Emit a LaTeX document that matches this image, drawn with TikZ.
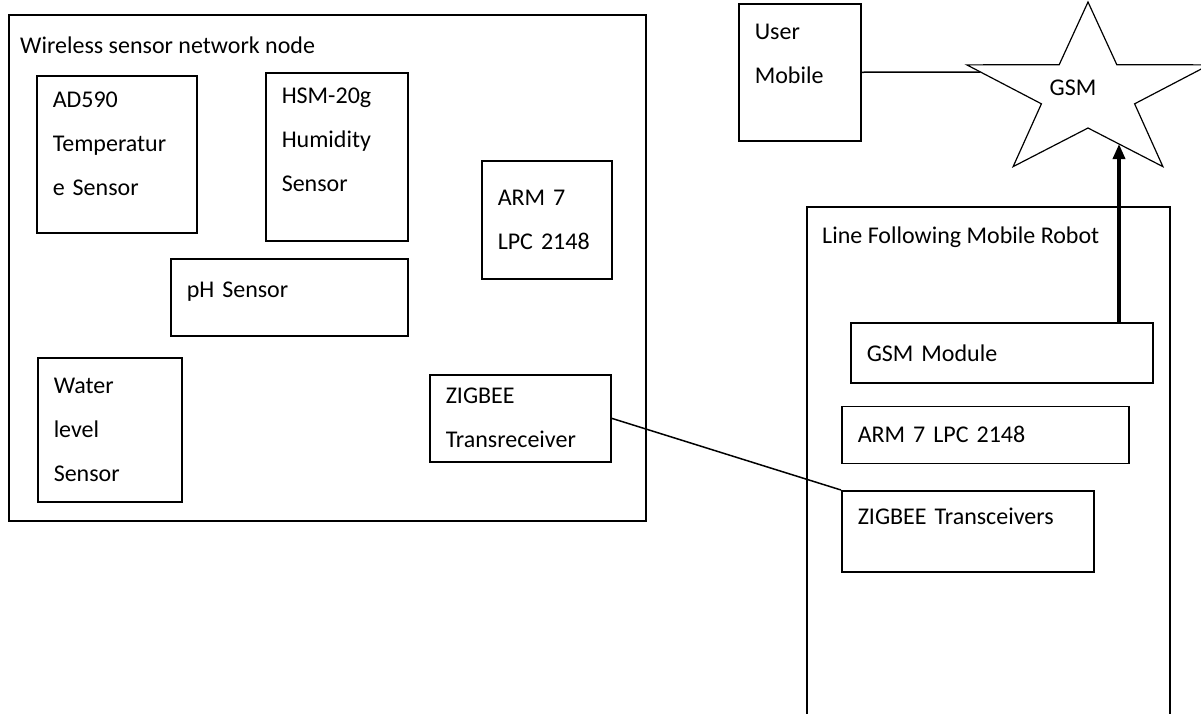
\documentclass[tikz,border=0pt]{standalone}
\usepackage{fontspec}
\setmainfont{Carlito}
\usetikzlibrary{positioning}
\usetikzlibrary{arrows.meta}
\tikzset{
	>={Triangle[length=15pt,width=12pt]},
	kasten/.style={
		rectangle,
		draw=black, line width=1.5pt,
		anchor=north west,
		inner xsep=16pt,
		align=left},
	hoch/.style={text depth=#1},
	rahmen/.style={
		rectangle,
		draw=black, line width=1.5pt,
		anchor=north west},
	titel/.style={anchor=west, inner sep=0pt},
	line/.style={draw, line width=1.5pt},
	pfeil/.style={draw, line width=3.5pt, ->},
}
\begin{document}
\begin{tikzpicture}
	[x=1pt, y=-1pt,
	font=\fontsize{24}{44}\selectfont]
	\useasboundingbox (0,0) rectangle (1201,713);
	\clip (0,0) rectangle (1201,713);
	% sensor node
	\node[rahmen, minimum width=637, minimum height=506] (wsn) at (8,14) {};
	\node[titel] (wsntitel) at (20,45) {Wireless sensor network node};
	\node[kasten, hoch=110pt, text width=128pt, minimum height=157] (ad590) at (36,75) {AD590\\Temperatur\\e Sensor};
	\node[kasten, hoch=122pt, text width=110pt, minimum height=168] (hsm) at (265,72) {HSM-20g\\Humidity\\Sensor};
	\node[kasten, text width=98pt, minimum height=118] (arm) at (481,160) {ARM 7\\LPC 2148};
	\node[kasten, hoch=16pt, text width=205pt, minimum height=77] (ph) at (170,258) {pH Sensor};
	\node[kasten, text width=112pt, minimum height=144] (water) at (37,357) {Water\\level\\Sensor};
	\node[kasten, text width=149pt, minimum height=87] (ztx) at (429,374) {ZIGBEE\\Transreceiver};
	% user and gsm
	\node[kasten, hoch=80pt, text width=90pt, minimum height=137] (user) at (738,3) {User\\Mobile};
	\foreach \i in {0,...,9} {
		\pgfmathsetmacro{\rr}{mod(\i,2)==0 ? 91 : 35}
		\coordinate (s\i) at ({1088+1.4*\rr*cos(90+36*\i)}, {93-\rr*sin(90+36*\i)});
	}
	\draw[line width=1.2pt] (s0) \foreach \i in {1,...,9} {-- (s\i)} -- cycle;
	\node (gsm) at (1073,88) {GSM};
	% robot
	\node[rahmen, minimum width=363, minimum height=520] (robot) at (806,206) {};
	\node[titel] (robottitel) at (822,237) {Line Following Mobile Robot};
	\node[kasten, text width=270pt, minimum height=60] (gsmmod) at (850,322) {GSM Module};
	\node[kasten, text width=255pt, minimum height=57, below right=22pt and -9pt of gsmmod.south west] (armlpc) {ARM 7 LPC 2148};
	\node[kasten, hoch=30pt, text width=220pt, minimum height=81, below right=26pt and 0pt of armlpc.south west] (zrx) {ZIGBEE Transceivers};
	% links
	\coordinate (userin) at (980,72);
	\coordinate (gsmin) at (1119,144);
	\draw[line] (user.east) -- (userin);
	\draw[pfeil] (gsmmod.north -| gsmin) -- (gsmin);
	\draw[line] (ztx.east) -- (zrx.north west);
\end{tikzpicture}
\end{document}
